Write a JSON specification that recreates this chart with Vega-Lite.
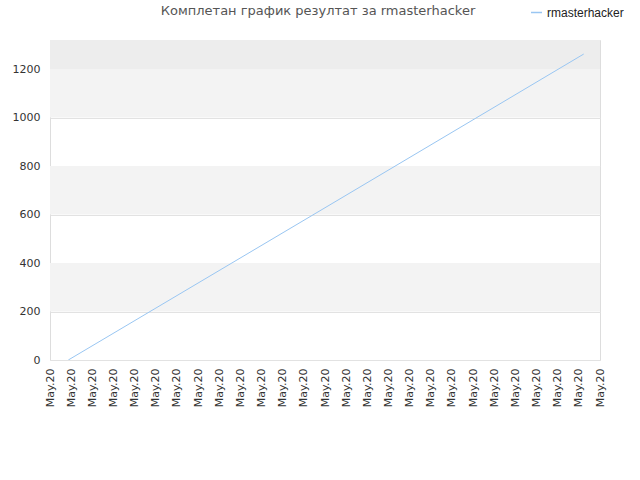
{
  "$schema": "https://vega.github.io/schema/vega-lite/v6.json",
  "autosize": "none",
  "padding": {"left": 50, "top": 40, "right": 40, "bottom": 120},
  "width": 550,
  "height": 320,
  "background": "#ffffff",
  "title": {
    "text": "Комплетан график резултат за rmasterhacker",
    "font": "DejaVu Sans",
    "fontSize": 13,
    "fontWeight": "normal",
    "color": "#555555",
    "anchor": "middle",
    "dx": -7,
    "offset": -12
  },
  "config": {
    "view": {"stroke": "#dddddd", "strokeWidth": 1},
    "axis": {
      "labelFont": "DejaVu Sans",
      "labelFontSize": 11,
      "labelColor": "#333333",
      "domain": false,
      "ticks": false,
      "title": null
    }
  },
  "datasets": {
    "bands": [
      {"lo": 1200, "hi": 1320, "shade": "top"},
      {"lo": 1000, "hi": 1200, "shade": "mid"},
      {"lo": 600, "hi": 800, "shade": "mid"},
      {"lo": 200, "hi": 400, "shade": "mid"}
    ],
    "scores": [
      {"step": 0.865, "score": 0, "player": "rmasterhacker"},
      {"step": 13, "score": 628, "player": "rmasterhacker"},
      {"step": 25.23, "score": 1262, "player": "rmasterhacker"}
    ]
  },
  "layer": [
    {
      "data": {"name": "bands"},
      "mark": {"type": "rect"},
      "encoding": {
        "y": {"field": "lo", "type": "quantitative", "scale": {"domain": [0, 1320], "nice": false}},
        "y2": {"field": "hi"},
        "color": {
          "field": "shade",
          "type": "nominal",
          "scale": {"domain": ["top", "mid"], "range": ["#ededed", "#f3f3f3"]},
          "legend": null
        }
      }
    },
    {
      "data": {"name": "scores"},
      "mark": {"type": "line", "strokeWidth": 1, "clip": true},
      "encoding": {
        "x": {
          "field": "step",
          "type": "quantitative",
          "scale": {"domain": [0, 26], "nice": false, "zero": false},
          "axis": {
            "values": [0, 1, 2, 3, 4, 5, 6, 7, 8, 9, 10, 11, 12, 13, 14, 15, 16, 17, 18, 19, 20, 21, 22, 23, 24, 25, 26],
            "labelExpr": "'May.20'",
            "labelAngle": 270,
            "labelAlign": "right",
            "labelBaseline": "middle",
            "labelPadding": 8,
            "labelOverlap": false,
            "grid": false
          }
        },
        "y": {
          "field": "score",
          "type": "quantitative",
          "scale": {"domain": [0, 1320], "nice": false},
          "axis": {
            "values": [0, 200, 400, 600, 800, 1000, 1200],
            "format": "d",
            "grid": true,
            "gridColor": "#e2e2e2",
            "labelPadding": 10
          }
        },
        "color": {
          "field": "player",
          "type": "nominal",
          "scale": {"range": ["#99c6f2"]},
          "legend": {
            "title": null,
            "orient": "none",
            "legendX": 480,
            "legendY": -34,
            "symbolType": "stroke",
            "symbolSize": 120,
            "symbolStrokeWidth": 1.5,
            "labelFont": "Liberation Sans",
            "labelFontSize": 12,
            "labelColor": "#222222"
          }
        }
      }
    }
  ],
  "resolve": {"scale": {"color": "independent"}}
}
